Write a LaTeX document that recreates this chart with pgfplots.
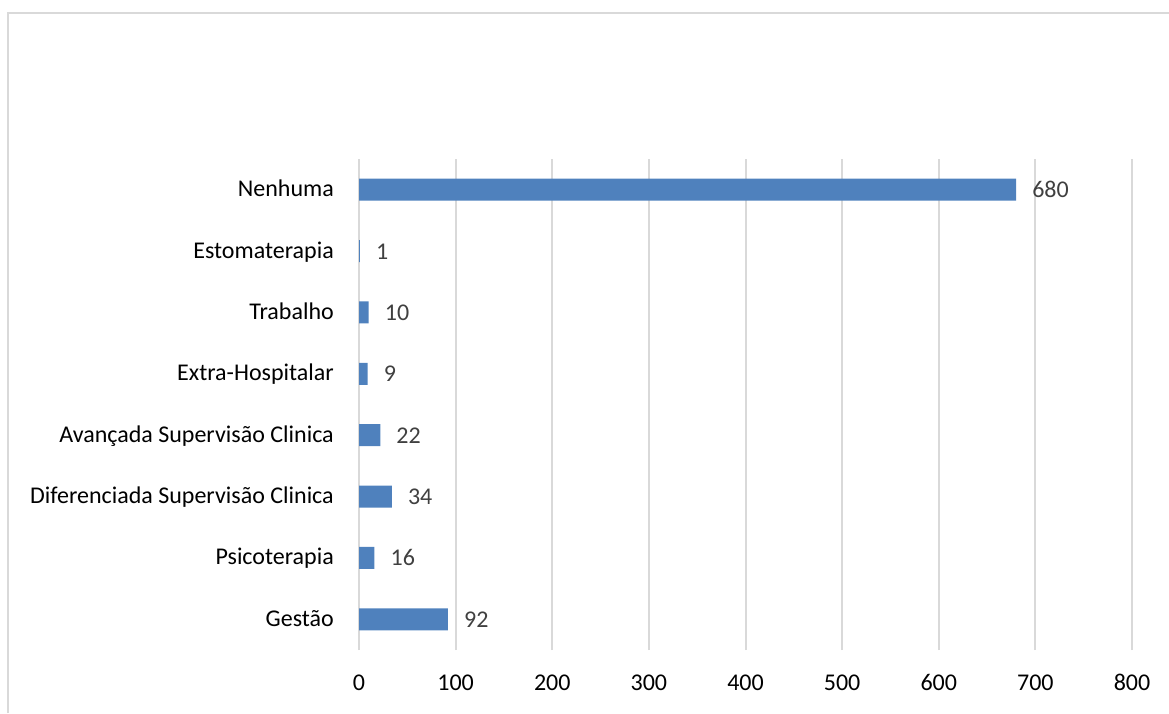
\documentclass[border=0pt]{standalone}
\usepackage{pgfplots}
\pgfplotsset{compat=1.18}
\usepackage{fontspec}
\setmainfont{Carlito}
\definecolor{barblue}{HTML}{4F81BD}
\definecolor{gridgray}{HTML}{D9D9D9}
\definecolor{valgray}{HTML}{404040}
\begin{document}
\begin{tikzpicture}[x=1pt,y=1pt]
% canvas and chart frame
\path[use as bounding box] (0,0) rectangle (1169,713);
\draw[gridgray, line width=2pt] (8,0) -- (8,700) -- (1169,700);
\begin{axis}[
  at={(359pt,63pt)}, anchor=south west,
  scale only axis, width=773pt, height=491pt,
  xmin=0, xmax=800, ymin=-0.5, ymax=7.5,
  xtick={0,100,...,800},
  ytick={0,...,7},
  yticklabels={Gestão, Psicoterapia, Diferenciada Supervisão Clinica, Avançada Supervisão Clinica, Extra-Hospitalar, Trabalho, Estomaterapia, Nenhuma},
  axis line style={draw=none},
  major tick length=0pt,
  xmajorgrids, grid style={gridgray, line width=2pt},
  tick label style={font=\fontsize{24}{28}\selectfont, text=black, inner sep=0pt},
  xticklabel style={anchor=base, yshift=-40pt},
  yticklabel style={anchor=base east, xshift=-25pt, yshift=-7pt},
  /pgf/number format/assume math mode=true,
  xbar, bar width=22pt,
  nodes near coords,
  nodes near coords style={font=\fontsize{24}{28}\selectfont, text=valgray, inner sep=0pt, anchor=base west, xshift=16pt, yshift=-8pt},
  clip=false,
]
\addplot[fill=barblue, draw=none] coordinates {(92,0) (16,1) (34,2) (22,3) (9,4) (10,5) (1,6) (680,7)};
\end{axis}
\end{tikzpicture}
\end{document}
